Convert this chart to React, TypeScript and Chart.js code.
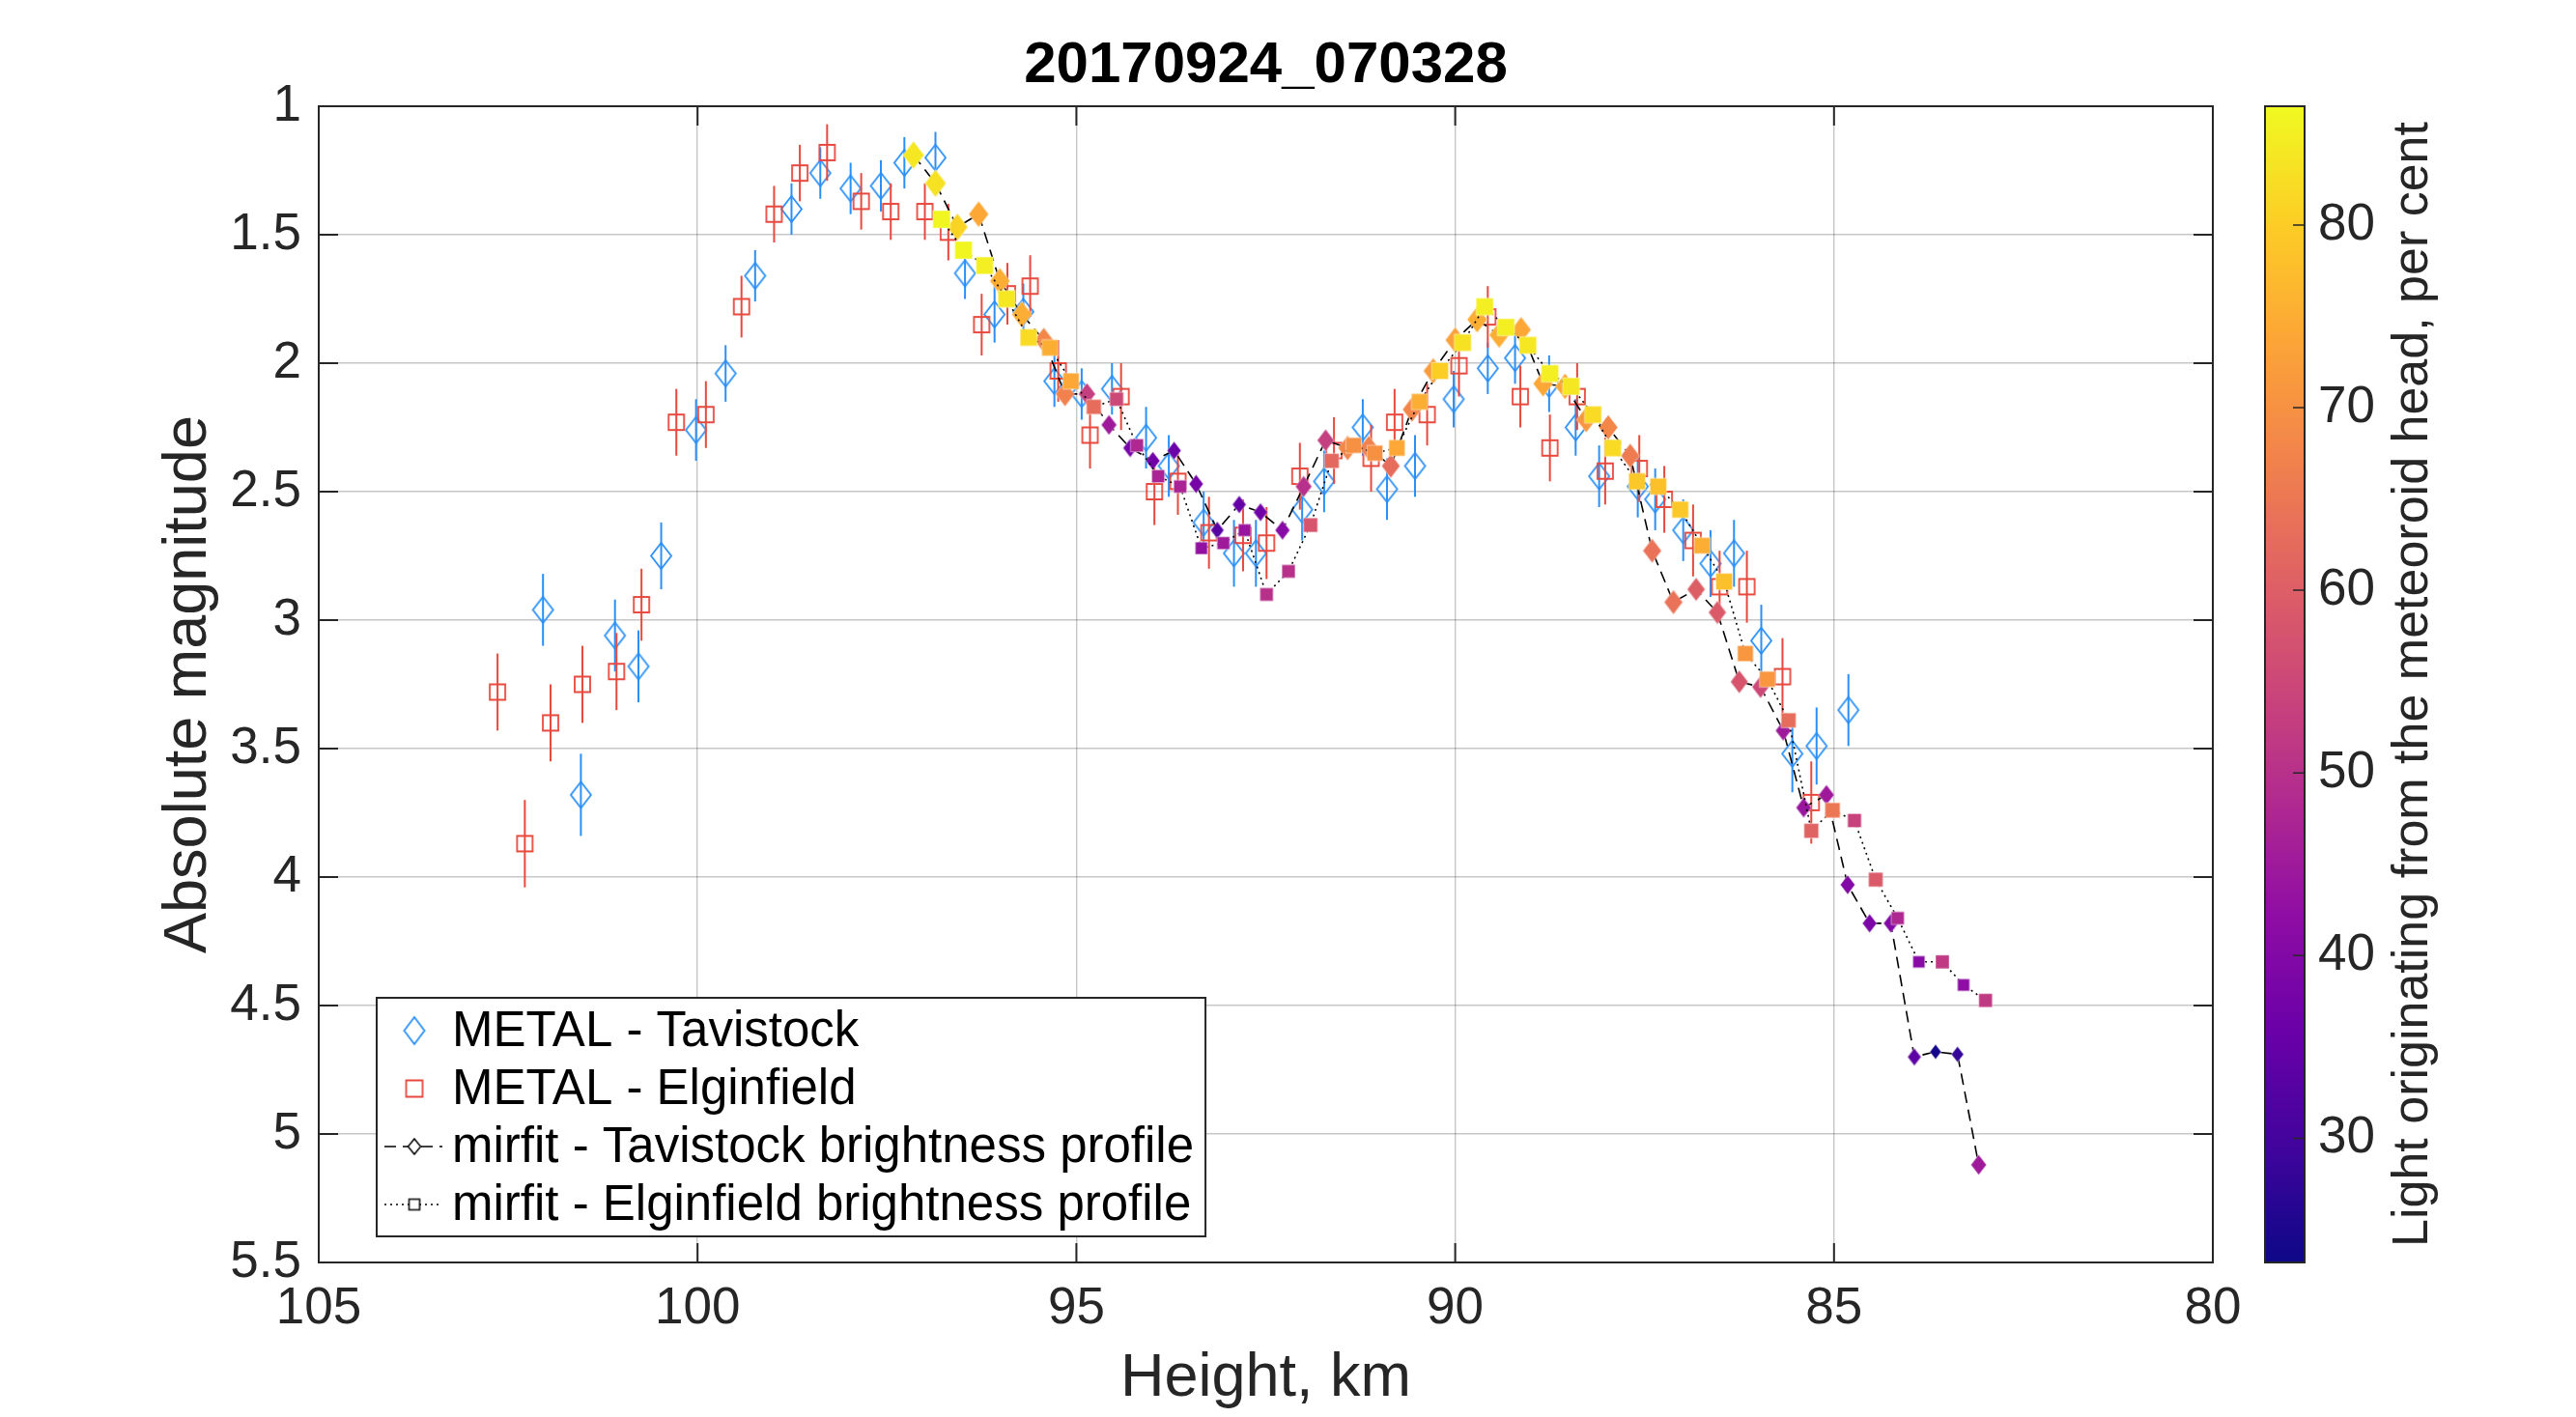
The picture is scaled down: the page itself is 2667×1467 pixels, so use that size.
import React, { useEffect, useRef } from 'react';
import { Chart, registerables } from 'chart.js';

Chart.register(...registerables);

const W = 2667;
const H = 1467;
const FONT = '"Liberation Sans", Arial, Helvetica, sans-serif';
const AXIS_COLOR = '#262626';
const GRID_COLOR = 'rgba(0,0,0,0.22)';
const BLUE = '#2a8ff7';
const RED = '#e8493e';

const TITLE = '20170924_070328';
const X_LABEL = 'Height, km';
const Y_LABEL = 'Absolute magnitude';
const CB_LABEL = 'Light originating from the meteoroid head, per cent';
const CB_TICKS = [30, 40, 50, 60, 70, 80];
const CB_MIN = 23.2;
const CB_MAX = 86.5;
const LEGEND_LABELS = [
  'METAL - Tavistock',
  'METAL - Elginfield',
  'mirfit - Tavistock brightness profile',
  'mirfit - Elginfield brightness profile',
];

// METAL - Tavistock (height km, magnitude, error)
const TAV_H = [102.04, 101.54, 101.09, 100.78, 100.48, 100.02, 99.63, 99.24, 98.76, 98.38, 97.98, 97.58, 97.27, 96.86, 96.47, 96.08, 95.70, 95.29, 94.93, 94.53, 94.08, 93.78, 93.32, 92.92, 92.63, 92.02, 91.73, 91.22, 90.90, 90.53, 90.02, 89.57, 89.21, 88.76, 88.41, 88.10, 87.59, 87.36, 86.99, 86.63, 86.32, 85.96, 85.55, 85.23, 84.81];
const TAV_MAG = [2.96, 3.68, 3.06, 3.18, 2.75, 2.26, 2.04, 1.66, 1.40, 1.26, 1.32, 1.31, 1.22, 1.20, 1.65, 1.81, 1.80, 2.07, 2.12, 2.10, 2.29, 2.40, 2.62, 2.74, 2.74, 2.57, 2.46, 2.25, 2.49, 2.40, 2.14, 2.02, 1.98, 2.08, 2.25, 2.44, 2.48, 2.53, 2.65, 2.78, 2.74, 3.08, 3.52, 3.49, 3.35];
const TAV_ERR = [0.14, 0.16, 0.14, 0.14, 0.13, 0.12, 0.11, 0.10, 0.10, 0.10, 0.10, 0.10, 0.10, 0.10, 0.10, 0.11, 0.11, 0.10, 0.10, 0.10, 0.12, 0.12, 0.12, 0.13, 0.13, 0.12, 0.12, 0.11, 0.12, 0.12, 0.11, 0.10, 0.10, 0.11, 0.11, 0.12, 0.12, 0.12, 0.12, 0.13, 0.13, 0.14, 0.15, 0.15, 0.14];

// METAL - Elginfield
const ELG_H = [102.64, 102.28, 101.94, 101.52, 101.07, 100.74, 100.28, 99.89, 99.42, 98.99, 98.65, 98.29, 97.84, 97.45, 97.00, 96.69, 96.25, 95.91, 95.61, 95.24, 94.82, 94.41, 93.97, 93.66, 93.25, 92.80, 92.49, 92.05, 91.60, 91.11, 90.80, 90.37, 89.95, 89.57, 89.14, 88.75, 88.39, 88.02, 87.57, 87.24, 86.86, 86.51, 86.15, 85.68, 85.30];
const ELG_MAG = [3.28, 3.87, 3.40, 3.25, 3.20, 2.94, 2.23, 2.20, 1.78, 1.42, 1.26, 1.18, 1.37, 1.41, 1.41, 1.49, 1.85, 1.73, 1.70, 2.03, 2.28, 2.13, 2.50, 2.46, 2.66, 2.67, 2.70, 2.44, 2.34, 2.37, 2.23, 2.20, 2.01, 1.82, 2.13, 2.33, 2.13, 2.42, 2.41, 2.53, 2.69, 2.87, 2.87, 3.22, 3.71];
const ELG_ERR = [0.15, 0.17, 0.15, 0.15, 0.15, 0.14, 0.13, 0.13, 0.12, 0.11, 0.11, 0.11, 0.11, 0.11, 0.11, 0.11, 0.12, 0.12, 0.12, 0.12, 0.13, 0.13, 0.13, 0.13, 0.14, 0.14, 0.14, 0.13, 0.13, 0.13, 0.13, 0.12, 0.12, 0.12, 0.12, 0.13, 0.13, 0.13, 0.13, 0.13, 0.14, 0.14, 0.14, 0.15, 0.16];

// mirfit - Tavistock brightness profile (height, magnitude, light from head %)
const TFIT_H = [97.15, 96.86, 96.57, 96.29, 96.01, 95.72, 95.43, 95.15, 94.86, 94.57, 94.29, 93.99, 93.71, 93.42, 93.14, 92.85, 92.57, 92.28, 92.00, 91.71, 91.42, 91.14, 90.85, 90.57, 90.29, 90.00, 89.71, 89.42, 89.13, 88.84, 88.55, 88.27, 87.98, 87.69, 87.40, 87.12, 86.82, 86.54, 86.25, 85.97, 85.67, 85.40, 85.10, 84.82, 84.53, 84.25, 83.94, 83.66, 83.37, 83.09];
const TFIT_MAG = [1.19, 1.30, 1.47, 1.42, 1.68, 1.81, 1.91, 2.12, 2.12, 2.24, 2.33, 2.38, 2.34, 2.47, 2.65, 2.55, 2.58, 2.65, 2.48, 2.30, 2.33, 2.33, 2.40, 2.18, 2.03, 1.91, 1.83, 1.89, 1.87, 2.08, 2.09, 2.22, 2.25, 2.36, 2.73, 2.93, 2.88, 2.97, 3.24, 3.26, 3.43, 3.73, 3.68, 4.03, 4.18, 4.18, 4.70, 4.68, 4.69, 5.12];
const TFIT_LIGHT = [84, 83, 81, 74, 75, 75, 68, 67, 53, 45, 38, 37, 36, 38, 33, 35, 37, 41, 50, 53, 68, 67, 63, 68, 72, 73, 75, 75, 74, 74, 74, 71, 68, 66, 64, 64, 60, 59, 58, 55, 45, 44, 45, 40, 39, 40, 34, 24, 28, 45];

// mirfit - Elginfield brightness profile
const EFIT_H = [96.78, 96.49, 96.21, 95.92, 95.63, 95.35, 95.07, 94.77, 94.47, 94.20, 93.92, 93.63, 93.35, 93.06, 92.78, 92.49, 92.20, 91.91, 91.63, 91.34, 91.06, 90.77, 90.47, 90.20, 89.90, 89.61, 89.33, 89.04, 88.75, 88.47, 88.18, 87.92, 87.60, 87.32, 87.03, 86.74, 86.45, 86.17, 85.88, 85.60, 85.30, 85.02, 84.73, 84.45, 84.16, 83.88, 83.57, 83.29, 83.00];
const EFIT_MAG = [1.44, 1.56, 1.62, 1.75, 1.90, 1.94, 2.07, 2.17, 2.14, 2.32, 2.44, 2.48, 2.72, 2.70, 2.65, 2.90, 2.81, 2.63, 2.38, 2.32, 2.35, 2.33, 2.15, 2.03, 1.92, 1.78, 1.86, 1.93, 2.04, 2.09, 2.20, 2.33, 2.46, 2.48, 2.57, 2.71, 2.85, 3.13, 3.23, 3.39, 3.82, 3.74, 3.78, 4.01, 4.16, 4.33, 4.33, 4.42, 4.48];
const EFIT_LIGHT = [86, 86, 85, 84, 82, 75, 74, 63, 55, 48, 47, 47, 43, 45, 44, 50, 50, 58, 62, 70, 70, 74, 75, 80, 83, 85, 85, 84, 85, 84, 82, 82, 79, 78, 79, 75, 78, 71, 71, 63, 61, 65, 54, 59, 48, 41, 52, 42, 52];

// plasma colormap stops
const PLASMA = ['#0d0887', '#41049d', '#6a00a8', '#8f0da4', '#b12a90', '#cc4778', '#e16462', '#f2844b', '#fca636', '#fcce25', '#f0f921'];

function hexRgb(h: string) {
  return [parseInt(h.slice(1, 3), 16), parseInt(h.slice(3, 5), 16), parseInt(h.slice(5, 7), 16)];
}
const PLASMA_RGB = PLASMA.map(hexRgb);
function plasma(v: number) {
  const t = Math.min(1, Math.max(0, (v - CB_MIN) / (CB_MAX - CB_MIN)));
  const s = t * (PLASMA_RGB.length - 1);
  const i = Math.min(PLASMA_RGB.length - 2, Math.floor(s));
  const f = s - i;
  const a = PLASMA_RGB[i];
  const b = PLASMA_RGB[i + 1];
  const c = a.map((av, k) => Math.round(av + (b[k] - av) * f));
  return `rgb(${c[0]},${c[1]},${c[2]})`;
}

function makeMarker(shape: 'diamond' | 'square', w: number, h: number, fill: string | null, stroke: string | null, lw: number) {
  const pad = Math.ceil(lw) + 1;
  const c = document.createElement('canvas');
  c.width = Math.ceil(w + 2 * pad);
  c.height = Math.ceil(h + 2 * pad);
  const g = c.getContext('2d')!;
  const cx = c.width / 2;
  const cy = c.height / 2;
  g.beginPath();
  if (shape === 'diamond') {
    g.moveTo(cx, cy - h / 2);
    g.lineTo(cx + w / 2, cy);
    g.lineTo(cx, cy + h / 2);
    g.lineTo(cx - w / 2, cy);
    g.closePath();
  } else {
    g.rect(cx - w / 2, cy - h / 2, w, h);
  }
  if (fill) {
    g.fillStyle = fill;
    g.fill();
  }
  if (stroke) {
    g.strokeStyle = stroke;
    g.lineWidth = lw;
    g.stroke();
  }
  return c;
}

function filledDiamond(v: number) {
  const h = 3.16 * Math.sqrt(v);
  return makeMarker('diamond', 0.76 * h, h, plasma(v), 'rgba(255,255,255,0.35)', 1.2);
}
function filledSquare(v: number) {
  const s = 1.94 * Math.sqrt(v);
  return makeMarker('square', s, s, plasma(v), 'rgba(255,255,255,0.4)', 1.2);
}

const framePlugin = {
  id: 'matlabFrame',
  beforeDatasetDraw(chart: any, args: any) {
    const ds = chart.data.datasets[args.index];
    if (!ds.errorBars) return;
    const { ctx } = chart;
    const xs = chart.scales.x;
    const ys = chart.scales.y;
    ctx.save();
    ctx.strokeStyle = ds.errorColor;
    ctx.lineWidth = 2;
    ds.data.forEach((p: any, i: number) => {
      const e = ds.errorBars[i];
      const px = xs.getPixelForValue(p.x);
      ctx.beginPath();
      ctx.moveTo(px, ys.getPixelForValue(p.y - e));
      ctx.lineTo(px, ys.getPixelForValue(p.y + e));
      ctx.stroke();
    });
    ctx.restore();
  },
  afterDatasetsDraw(chart: any) {
    const { ctx, chartArea: ca } = chart;
    const xs = chart.scales.x;
    const ys = chart.scales.y;
    const TL = 20;
    ctx.save();
    ctx.strokeStyle = AXIS_COLOR;
    ctx.lineWidth = 2;
    ctx.beginPath();
    xs.ticks.forEach((t: any) => {
      const px = xs.getPixelForValue(t.value);
      ctx.moveTo(px, ca.bottom);
      ctx.lineTo(px, ca.bottom - TL);
      ctx.moveTo(px, ca.top);
      ctx.lineTo(px, ca.top + TL);
    });
    ys.ticks.forEach((t: any) => {
      const py = ys.getPixelForValue(t.value);
      ctx.moveTo(ca.left, py);
      ctx.lineTo(ca.left + TL, py);
      ctx.moveTo(ca.right, py);
      ctx.lineTo(ca.right - TL, py);
    });
    ctx.stroke();
    ctx.strokeRect(ca.left, ca.top, ca.right - ca.left, ca.bottom - ca.top);
    ctx.restore();
  },
  afterDraw(chart: any) {
    const { ctx, chartArea: ca } = chart;
    // ---- legend ----
    ctx.save();
    ctx.font = `51px ${FONT}`;
    const labels: string[] = chart.data.datasets.map((d: any) => d.label);
    const maxW = Math.max(...labels.map((l) => ctx.measureText(l).width));
    const rowH = 60;
    const boxH = 34 + rowH * (labels.length - 1) + 33;
    const boxL = ca.left + 60;
    const boxW = 78 + maxW + 12;
    const boxT = ca.bottom - 27 - boxH;
    ctx.fillStyle = '#ffffff';
    ctx.fillRect(boxL, boxT, boxW, boxH);
    ctx.strokeStyle = AXIS_COLOR;
    ctx.lineWidth = 2;
    ctx.strokeRect(boxL, boxT, boxW, boxH);
    const mx = boxL + 39;
    const samples = [
      makeMarker('diamond', 21, 28, null, BLUE, 1.8),
      makeMarker('square', 17, 17, null, RED, 1.8),
      makeMarker('diamond', 13, 16, '#ffffff', '#000000', 1.5),
      makeMarker('square', 11, 11, '#ffffff', '#000000', 1.5),
    ];
    labels.forEach((lab, i) => {
      const y = boxT + 34 + i * rowH;
      if (i >= 2) {
        ctx.save();
        ctx.strokeStyle = '#000000';
        ctx.lineWidth = 1.6;
        ctx.setLineDash(i === 2 ? [12, 7] : [2, 4]);
        ctx.beginPath();
        ctx.moveTo(boxL + 8, y);
        ctx.lineTo(boxL + 68, y);
        ctx.stroke();
        ctx.restore();
      }
      const s = samples[i];
      ctx.drawImage(s, mx - s.width / 2, y - s.height / 2);
      ctx.fillStyle = '#000000';
      ctx.textAlign = 'left';
      ctx.textBaseline = 'middle';
      ctx.fillText(lab, boxL + 78, y + 2);
    });
    ctx.restore();

    // ---- colorbar ----
    const cb = chart.scales.cb;
    const x0 = ca.right + 54;
    const x1 = x0 + 41;
    const yTop = cb.getPixelForValue(CB_MAX);
    const yBot = cb.getPixelForValue(CB_MIN);
    ctx.save();
    const grad = ctx.createLinearGradient(0, yBot, 0, yTop);
    PLASMA.forEach((c, i) => grad.addColorStop(i / (PLASMA.length - 1), c));
    ctx.fillStyle = grad;
    ctx.fillRect(x0, yTop, x1 - x0, yBot - yTop);
    ctx.strokeStyle = AXIS_COLOR;
    ctx.lineWidth = 2;
    ctx.strokeRect(x0, yTop, x1 - x0, yBot - yTop);
    ctx.font = `53px ${FONT}`;
    ctx.fillStyle = AXIS_COLOR;
    ctx.textAlign = 'left';
    ctx.textBaseline = 'middle';
    ctx.beginPath();
    CB_TICKS.forEach((v) => {
      const y = cb.getPixelForValue(v);
      ctx.moveTo(x1, y);
      ctx.lineTo(x1 - 12, y);
      ctx.fillText(String(v), x1 + 14, y);
    });
    ctx.lineWidth = 1.5;
    ctx.stroke();
    ctx.translate(x1 + 113, (yTop + yBot) / 2);
    ctx.rotate(-Math.PI / 2);
    ctx.font = `52px ${FONT}`;
    ctx.textAlign = 'center';
    ctx.fillText(CB_LABEL, 0, 0);
    ctx.restore();
  },
};

export default function App() {
  const ref = useRef<HTMLCanvasElement>(null);
  useEffect(() => {
    document.body.style.margin = '0';
    document.body.style.overflow = 'hidden';
    Chart.defaults.font.family = FONT;
    const tavMetal = TAV_H.map((x, i) => ({ x, y: TAV_MAG[i] }));
    const elgMetal = ELG_H.map((x, i) => ({ x, y: ELG_MAG[i] }));
    const tavFit = TFIT_H.map((x, i) => ({ x, y: TFIT_MAG[i] }));
    const elgFit = EFIT_H.map((x, i) => ({ x, y: EFIT_MAG[i] }));
    const openDiamond = makeMarker('diamond', 21, 27, null, BLUE, 1.8);
    const openSquare = makeMarker('square', 16, 16, null, RED, 1.8);

    const chart = new Chart(ref.current!, {
      type: 'scatter',
      data: {
        datasets: [
          {
            label: LEGEND_LABELS[0],
            data: tavMetal,
            pointStyle: openDiamond as any,
            pointRadius: 14,
            showLine: false,
            order: 3,
            errorBars: TAV_ERR,
            errorColor: BLUE,
          } as any,
          {
            label: LEGEND_LABELS[1],
            data: elgMetal,
            pointStyle: openSquare as any,
            pointRadius: 10,
            showLine: false,
            order: 2,
            errorBars: ELG_ERR,
            errorColor: RED,
          } as any,
          {
            label: LEGEND_LABELS[2],
            data: tavFit,
            pointStyle: TFIT_LIGHT.map((v) => filledDiamond(v)) as any,
            pointRadius: 12,
            showLine: true,
            borderColor: '#000000',
            borderWidth: 1.6,
            borderDash: [12, 7],
            order: 1,
          } as any,
          {
            label: LEGEND_LABELS[3],
            data: elgFit,
            pointStyle: EFIT_LIGHT.map((v) => filledSquare(v)) as any,
            pointRadius: 10,
            showLine: true,
            borderColor: '#000000',
            borderWidth: 1.6,
            borderDash: [2, 4],
            order: 0,
          } as any,
        ],
      },
      options: {
        animation: false,
        responsive: false,
        devicePixelRatio: 1,
        events: [],
        layout: { padding: { left: 0, right: 376, top: 0, bottom: 0 } },
        plugins: {
          legend: { display: false },
          tooltip: { enabled: false },
          title: {
            display: true,
            text: TITLE,
            fullSize: false,
            color: '#000000',
            font: { size: 60, weight: 'bold', family: FONT },
            padding: { top: 32, bottom: 6 },
          },
        },
        scales: {
          x: {
            type: 'linear',
            reverse: true,
            min: 80,
            max: 105,
            ticks: { stepSize: 5, color: AXIS_COLOR, font: { size: 53 }, padding: 17 },
            grid: { color: GRID_COLOR, lineWidth: 1.4, drawTicks: false },
            border: { display: true, color: AXIS_COLOR, width: 2 },
            title: { display: true, text: X_LABEL, color: AXIS_COLOR, font: { size: 63 }, padding: { top: 0, bottom: 2 } },
            afterFit: (s: any) => {
              s.height = 160;
            },
          },
          y: {
            type: 'linear',
            reverse: true,
            min: 1,
            max: 5.5,
            ticks: { stepSize: 0.5, color: AXIS_COLOR, font: { size: 53 }, padding: 18, callback: (v: any) => String(Number(v)) },
            grid: { color: GRID_COLOR, lineWidth: 1.4, drawTicks: false },
            border: { display: true, color: AXIS_COLOR, width: 2 },
            title: { display: true, text: Y_LABEL, color: AXIS_COLOR, font: { size: 63 }, padding: { top: 158, bottom: 0 } },
            afterFit: (s: any) => {
              s.width = 330;
            },
          },
          cb: {
            type: 'linear',
            position: 'right',
            display: false,
            min: CB_MIN,
            max: CB_MAX,
          },
        },
      } as any,
      plugins: [framePlugin as any],
    });
    return () => chart.destroy();
  }, []);
  return (
    <div style={{ width: W, height: H }}>
      <canvas ref={ref} width={W} height={H} style={{ width: W, height: H, display: 'block' }} />
    </div>
  );
}
